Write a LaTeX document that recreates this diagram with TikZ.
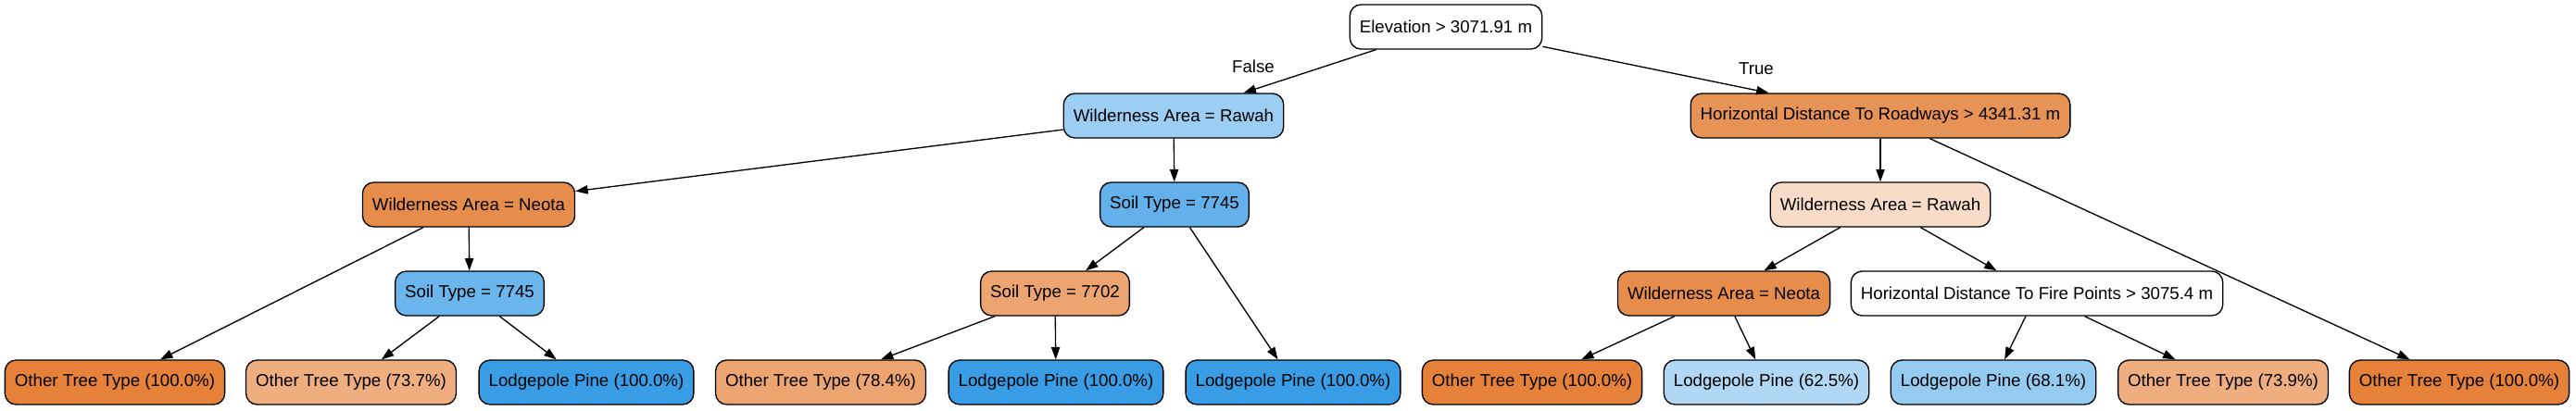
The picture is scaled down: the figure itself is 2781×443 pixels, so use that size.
\documentclass[tikz,border=0pt]{standalone}
\usepackage{fontspec}
\setmainfont{Liberation Sans}
\usetikzlibrary{arrows.meta}
\definecolor{orangeA}{RGB}{229,129,57}
\definecolor{orangeB}{RGB}{232,147,86}
\definecolor{orangeC}{RGB}{231,141,76}
\definecolor{orangeD}{RGB}{236,164,112}
\definecolor{orangeE}{RGB}{238,174,128}
\definecolor{orangeF}{RGB}{248,220,200}
\definecolor{blueA}{RGB}{57,157,229}
\definecolor{blueB}{RGB}{99,176,234}
\definecolor{blueC}{RGB}{106,181,236}
\definecolor{blueD}{RGB}{156,205,242}
\definecolor{blueE}{RGB}{150,203,241}
\definecolor{blueF}{RGB}{176,216,245}
\definecolor{whiteA}{RGB}{255,253,251}
\begin{document}
\begin{tikzpicture}[x=0.75pt,y=-0.75pt,
    box/.style={draw,line width=1pt,rounded corners=9pt,minimum height=36pt,
      inner xsep=7.92pt,inner ysep=0pt,font=\fontsize{14pt}{16.8pt}\selectfont},
    lbl/.style={font=\fontsize{14pt}{16.8pt}\selectfont}]
      \useasboundingbox (0,0) rectangle (2781,443);
      \draw
        (1561,29) node[box,fill=white] (0){Elevation > 3071.91 m}
        (1267,125) node[box,fill=blueD] (1){Wilderness Area = Rawah}
        (506,221) node[box,fill=orangeC] (2){Wilderness Area = Neota}
        (124,413) node[box,fill=orangeA] (3){Other Tree Type (100.0\%)}
        (507,317) node[box,fill=blueC] (4){Soil Type = 7745}
        (379,413) node[box,fill=orangeE] (5){Other Tree Type (73.7\%)}
        (633,413) node[box,fill=blueA] (6){Lodgepole Pine (100.0\%)}
        (1268,221) node[box,fill=blueB] (7){Soil Type = 7745}
        (1139,317) node[box,fill=orangeD] (8){Soil Type = 7702}
        (886,413) node[box,fill=orangeD] (9){Other Tree Type (78.4\%)}
        (1140,413) node[box,fill=blueA] (10){Lodgepole Pine (100.0\%)}
        (1396,413) node[box,fill=blueA] (11){Lodgepole Pine (100.0\%)}
        (2030,125) node[box,fill=orangeB] (12){Horizontal Distance To Roadways > 4341.31 m}
        (2030,221) node[box,fill=orangeF] (13){Wilderness Area = Rawah}
        (1861,317) node[box,fill=orangeC] (14){Wilderness Area = Neota}
        (1654,413) node[box,fill=orangeA] (15){Other Tree Type (100.0\%)}
        (1907,413) node[box,fill=blueF] (16){Lodgepole Pine (62.5\%)}
        (2199,317) node[box,fill=whiteA] (17){Horizontal Distance To Fire Points > 3075.4 m}
        (2152,413) node[box,fill=blueE] (18){Lodgepole Pine (68.1\%)}
        (2400,413) node[box,fill=orangeE] (19){Other Tree Type (73.9\%)}
        (2655,413) node[box,fill=orangeA] (20){Other Tree Type (100.0\%)}
        (1353,72) node[lbl] (f){False}
        (1896,74) node[lbl] (t){True};
      \begin{scope}[-{Triangle[length=10pt,width=7pt]},line width=1pt]
        \draw (0) to (1);
        \draw (0) to (12);
        \draw (1) to (2);
        \draw (1) to (7);
        \draw (2) to (3);
        \draw (2) to (4);
        \draw (4) to (5);
        \draw (4) to (6);
        \draw (7) to (8);
        \draw (7) to (11);
        \draw (8) to (9);
        \draw (8) to (10);
        \draw (12) to (13);
        \draw (12) to (20);
        \draw (13) to (14);
        \draw (13) to (17);
        \draw (14) to (15);
        \draw (14) to (16);
        \draw (17) to (18);
        \draw (17) to (19);
      \end{scope}
    \end{tikzpicture}
\end{document}
